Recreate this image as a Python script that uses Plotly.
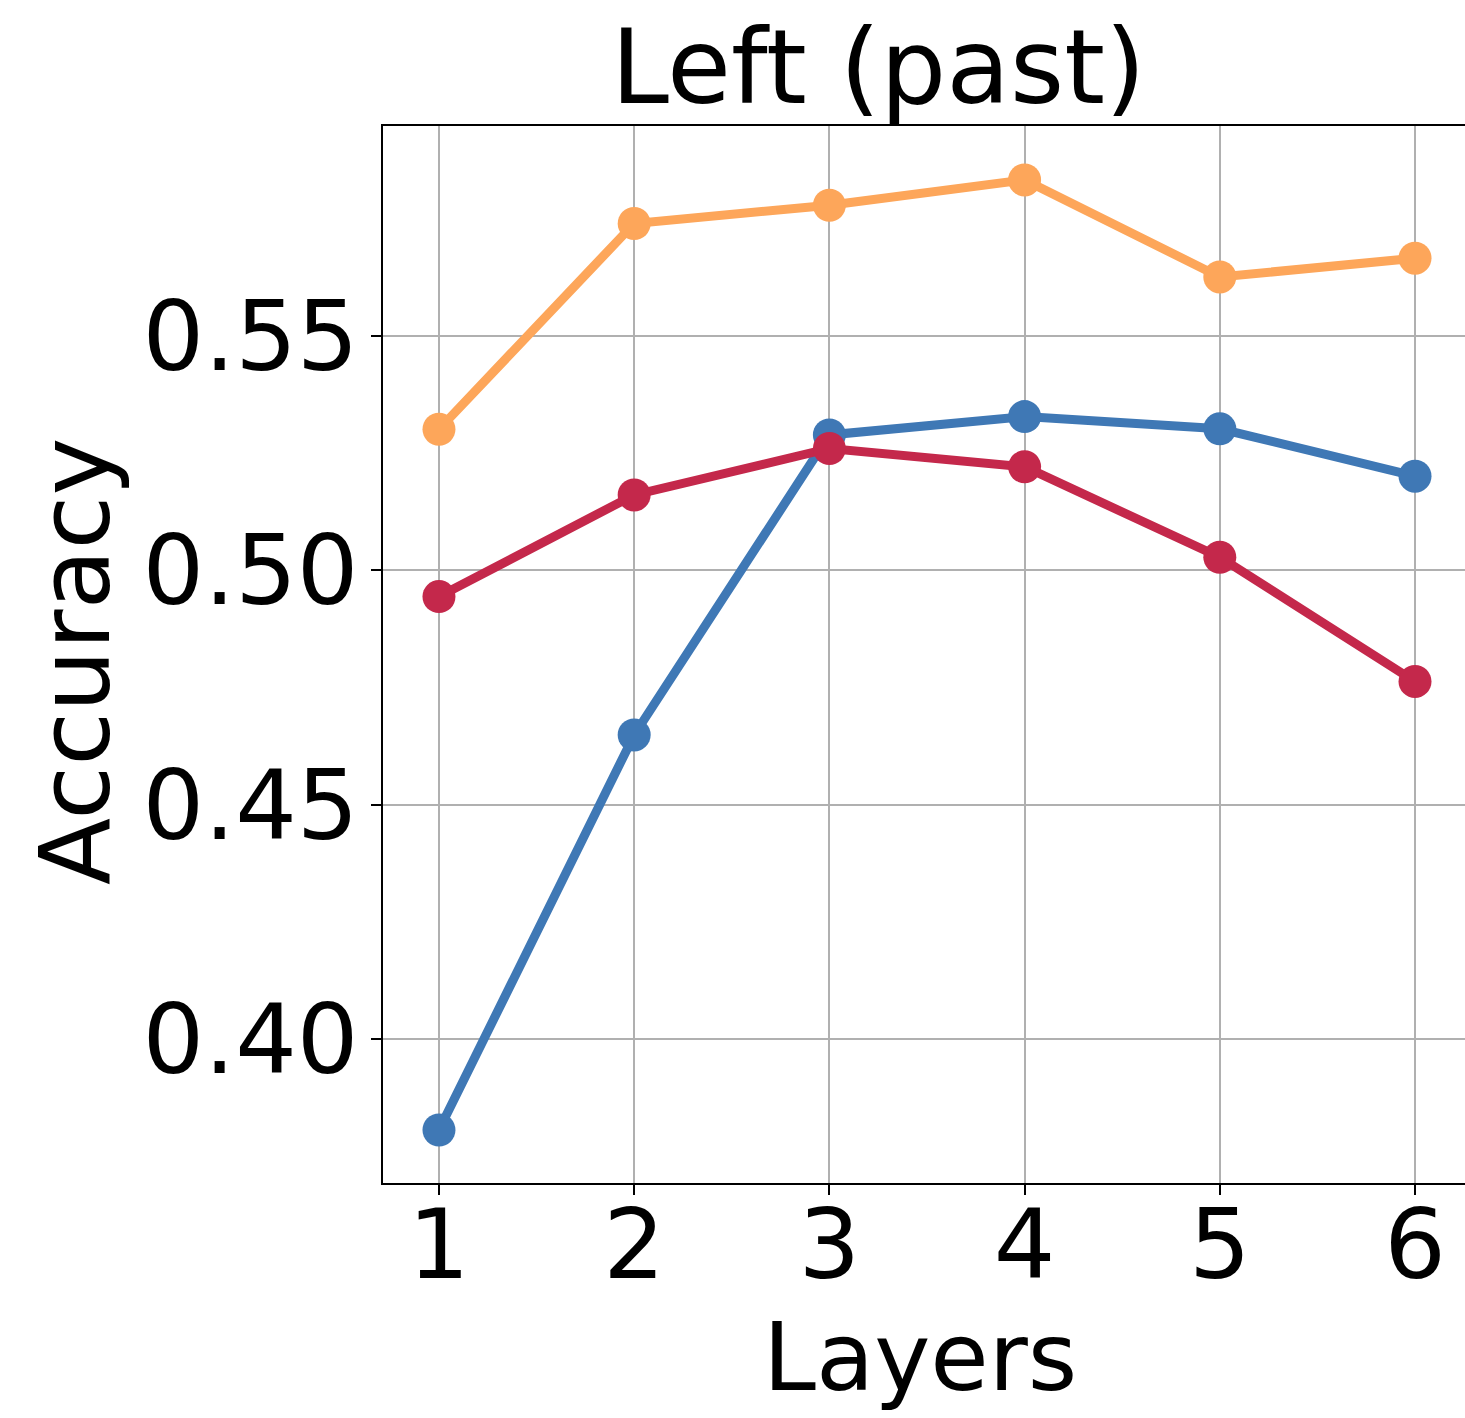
import plotly.graph_objects as go

# Probe accuracy per layer for three configurations
layers = [1, 2, 3, 4, 5, 6]
acc_orange = [0.5301, 0.5740, 0.5779, 0.5833, 0.5626, 0.5666]
acc_blue = [0.3806, 0.4649, 0.5289, 0.5328, 0.5302, 0.5201]
acc_red = [0.4944, 0.5161, 0.5260, 0.5221, 0.5028, 0.4763]

y_ticks = [0.40, 0.45, 0.50, 0.55]
y_tick_text = ["0.40", "0.45", "0.50", "0.55"]

W, H = 1465, 1418
L, R, T, B = 383, 0, 126, 235
PW, PH = W - L - R, H - T - B
FONT = "DejaVu Sans"


def px_x(px):
    return (px - L) / PW


def px_y(py):
    return (H - B - py) / PH


fig = go.Figure()
for ys, color in [(acc_orange, "#FDA65A"), (acc_blue, "#3F78B5"), (acc_red, "#C4284B")]:
    fig.add_trace(go.Scatter(
        x=layers, y=ys, mode="lines+markers",
        line=dict(color=color, width=9),
        marker=dict(color=color, size=33),
        showlegend=False, cliponaxis=False,
    ))

fig.update_layout(
    width=W, height=H,
    margin=dict(l=L, r=R, t=T, b=B, pad=0),
    plot_bgcolor="white", paper_bgcolor="white",
    font=dict(family=FONT, color="black"),
)

fig.update_xaxes(
    range=[0.7133, 6.2561], tickvals=layers, ticktext=[str(v) for v in layers],
    showgrid=True, gridcolor="#b0b0b0", gridwidth=1.6,
    showline=True, linecolor="black", linewidth=2, mirror=True,
    ticks="outside", ticklen=10, tickwidth=1.6, tickcolor="black",
    tickfont=dict(size=97, family=FONT), zeroline=False,
    ticklabelstandoff=-33,
)
fig.update_yaxes(
    range=[0.3693, 0.5948], tickvals=y_ticks, ticktext=y_tick_text,
    showgrid=True, gridcolor="#b0b0b0", gridwidth=1.6,
    showline=True, linecolor="black", linewidth=2, mirror=False,
    ticks="outside", ticklen=10, tickwidth=1.6, tickcolor="black",
    tickfont=dict(size=97, family=FONT), zeroline=False,
    ticklabelstandoff=-7,
)

# Title and axis labels
fig.add_annotation(
    text="Left (past)", xref="paper", yref="paper",
    x=px_x(878), y=px_y(130), xanchor="center", yanchor="bottom",
    showarrow=False, font=dict(size=104, family=FONT, color="black"),
)
fig.add_annotation(
    text="Layers", xref="paper", yref="paper",
    x=px_x(920), y=px_y(1300), xanchor="center", yanchor="top",
    showarrow=False, font=dict(size=95, family=FONT, color="black"),
)
fig.add_annotation(
    text="Accuracy", xref="paper", yref="paper",
    x=px_x(75), y=px_y(662), xanchor="center", yanchor="middle",
    textangle=-90, showarrow=False,
    font=dict(size=98, family=FONT, color="black"),
)

fig.write_html("out.html")
